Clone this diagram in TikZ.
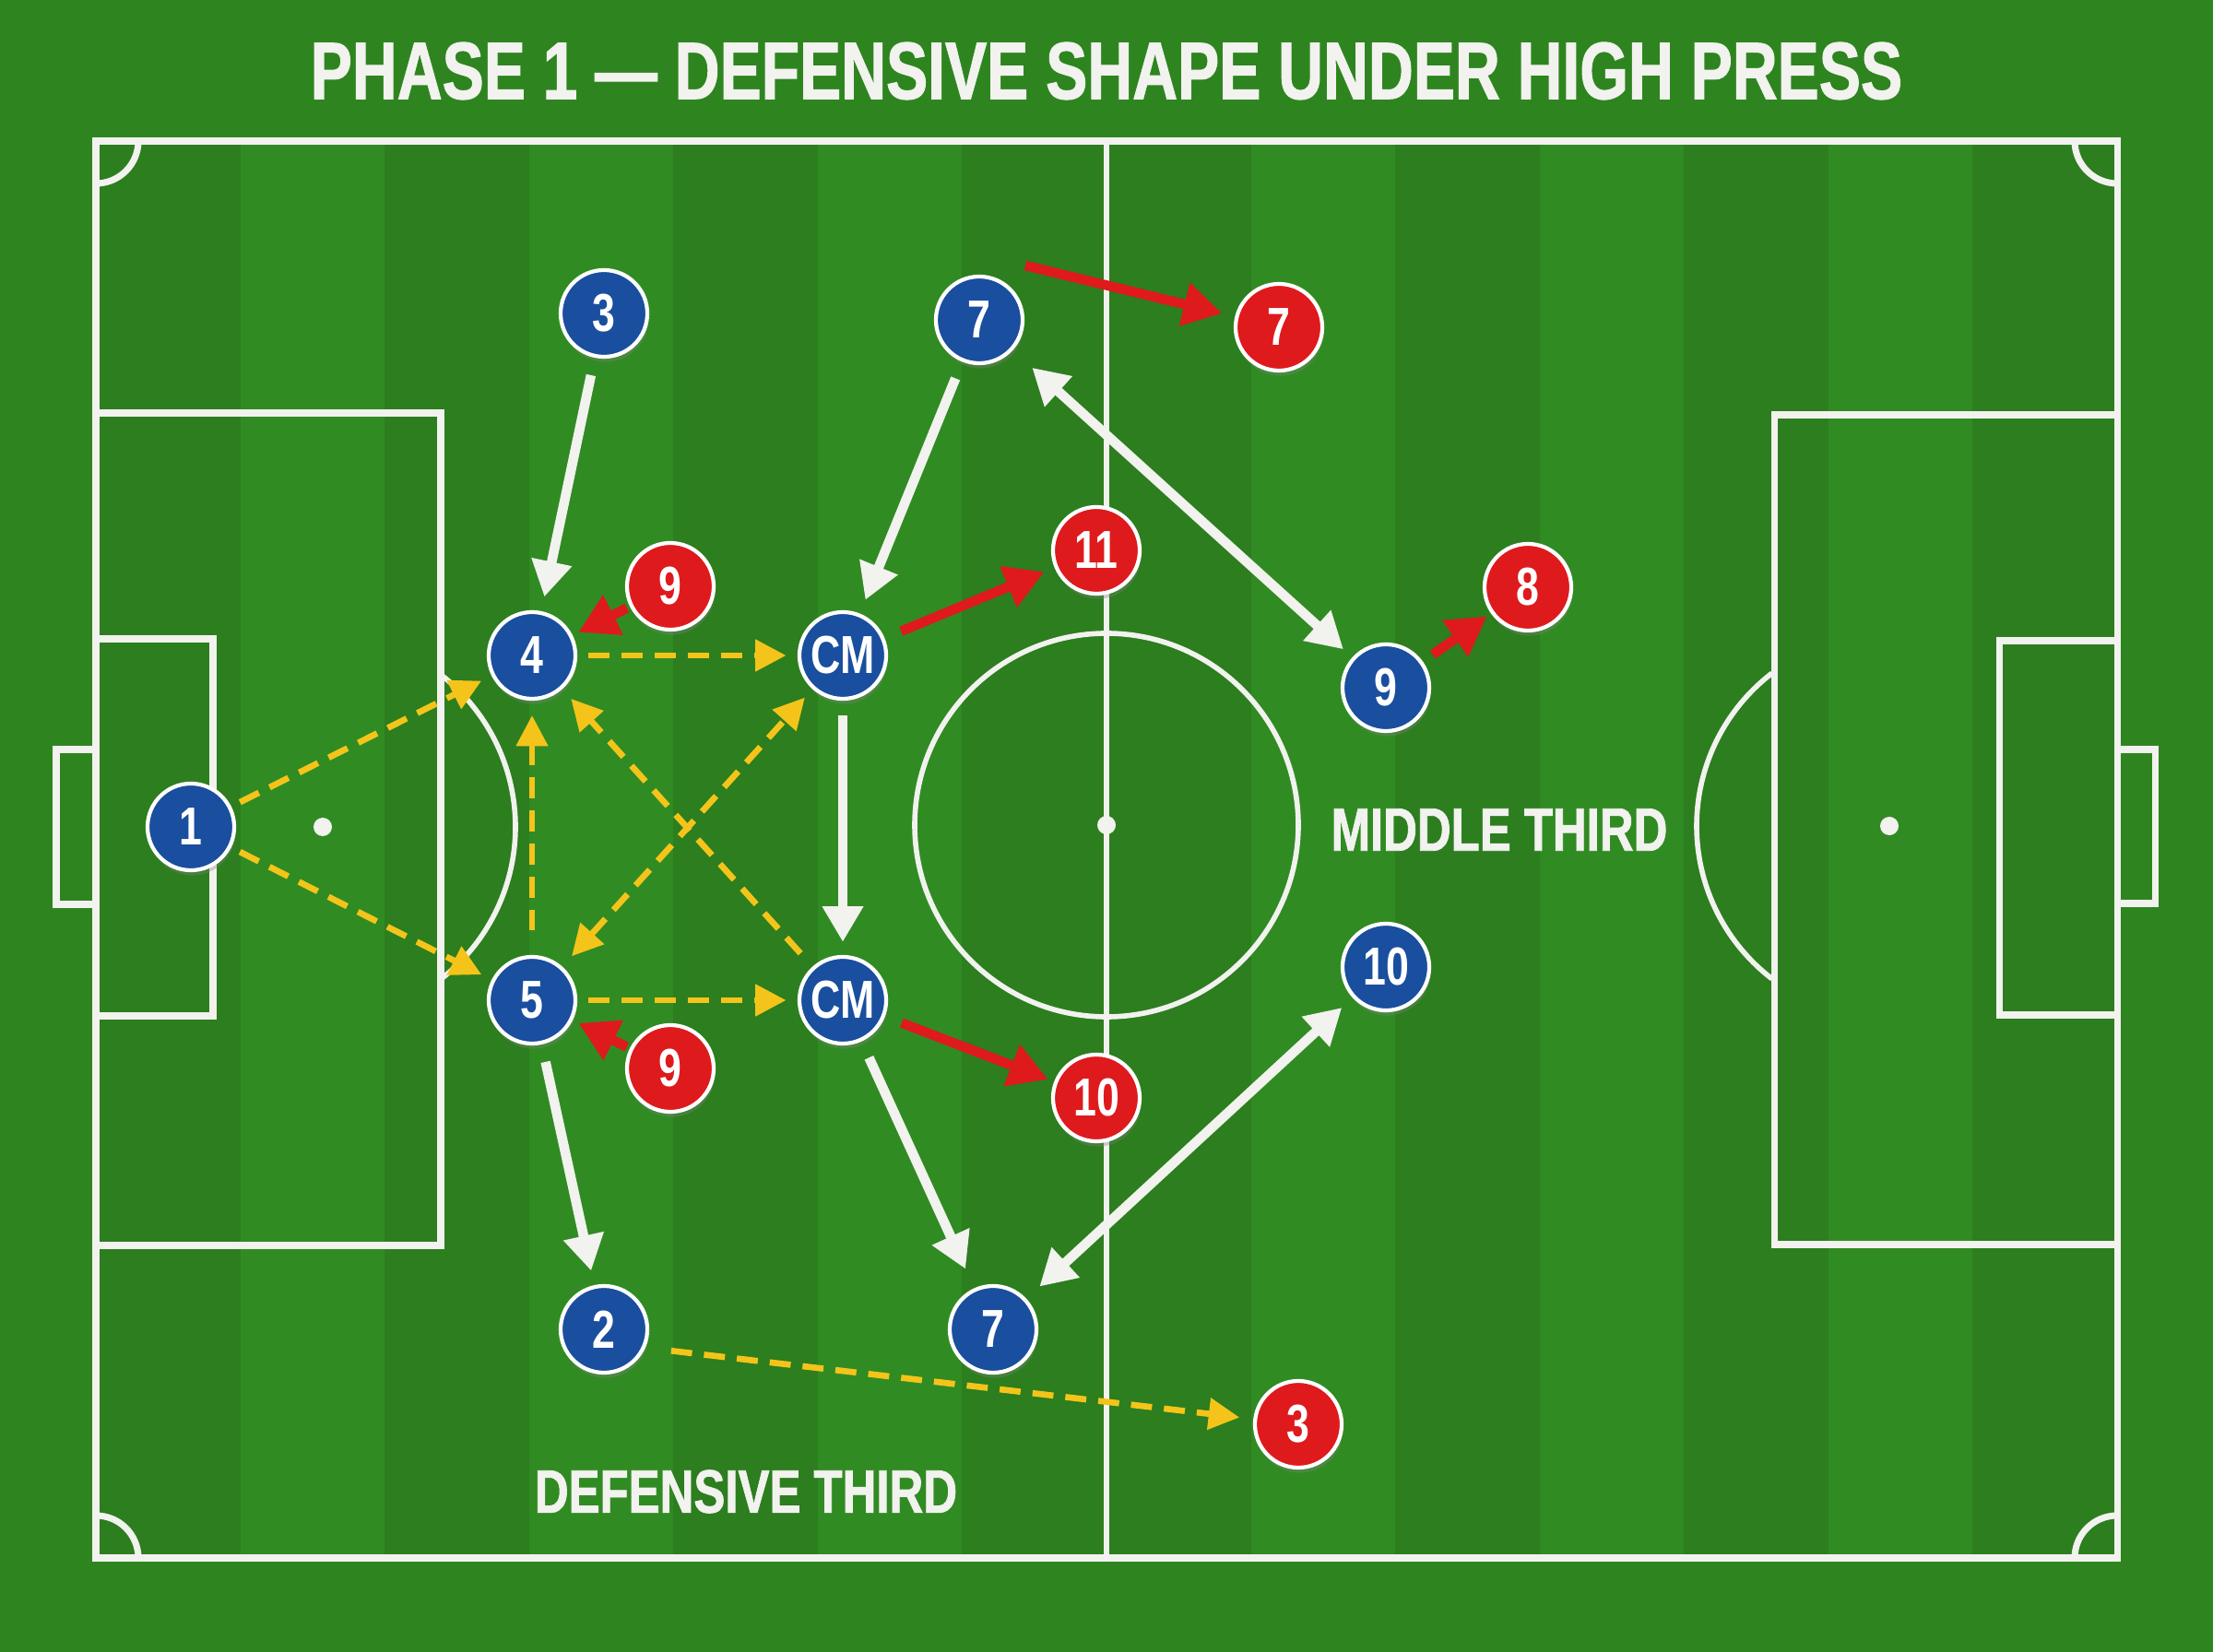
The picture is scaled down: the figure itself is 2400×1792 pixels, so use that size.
\documentclass[tikz,border=0pt]{standalone}
\usepackage{fontspec}
\setmainfont{Liberation Sans}
\newfontfamily\condfont[FakeStretch=0.77]{Liberation Sans}
\newfontfamily\heavyfont[FakeStretch=0.77, FakeBold=1.2]{Liberation Sans}
\usetikzlibrary{arrows.meta,shadows}

\definecolor{grass}{HTML}{2E851F}
\definecolor{grassdark}{HTML}{2C7E1E}
\definecolor{grasslight}{HTML}{318B23}
\definecolor{chalk}{HTML}{F2F2EF}
\definecolor{homeblue}{HTML}{1A4E9E}
\definecolor{awayred}{HTML}{DE1A1D}
\definecolor{passyellow}{HTML}{F4C41A}

\tikzset{
	pitchline/.style={draw=chalk, line width=2pt},
	player/.style={circle, draw=white, line width=1.2pt, minimum size=0.94cm, inner sep=0pt, text=white,
		font=\condfont\bfseries\fontsize{16.5}{18}\selectfont,
		drop shadow={opacity=0.35, shadow xshift=0.4pt, shadow yshift=-1.6pt}},
	home/.style={player, fill=homeblue},
	away/.style={player, fill=awayred},
	zonelabel/.style={text=chalk, inner sep=0pt, font=\heavyfont\bfseries\fontsize{18.8}{20}\selectfont},
	run/.style={draw=chalk, line width=3pt, -{Triangle[length=11pt,width=12pt]}, shorten >=4.5pt, shorten <=5.5pt},
	runboth/.style={run, {Triangle[length=11pt,width=12pt]}-{Triangle[length=11pt,width=12pt]}},
	press/.style={draw=awayred, line width=3pt, -{Triangle[length=12pt,width=13pt]}, shorten >=2pt, shorten <=1pt},
	pass/.style={draw=passyellow, line width=1.9pt, dash pattern=on 6.5pt off 3.7pt,
		-{Triangle[length=9.5pt,width=9.5pt]}, shorten >=3.5pt, shorten <=3.5pt},
	passboth/.style={pass, {Triangle[length=9.5pt,width=9.5pt]}-{Triangle[length=9.5pt,width=9.5pt]}}
}

\begin{document}
\begin{tikzpicture}[x=0.01cm, y=-0.01cm]
	\useasboundingbox (0,0) rectangle (2400,1792);
	\fill[grass] (0,0) rectangle (2400,1792);
	\foreach \i/\shade in {0/grassdark,1/grasslight,2/grassdark,3/grasslight,4/grassdark,5/grasslight,6/grassdark,
		7/grassdark,8/grasslight,9/grassdark,10/grasslight,11/grassdark,12/grasslight,13/grassdark}
		\fill[\shade] ({104+\i*156.57},153) rectangle ({104+(\i+1)*156.57},1690);

	\draw[pitchline] (104,153) rectangle (2296,1690);
	\draw[pitchline, line width=1.6pt] (1200,153) -- (1200,1690);
	\draw[pitchline, line width=1.6pt] (1200,895) circle[radius=208];
	\fill[chalk] (1200,895) circle[radius=10];
	\draw[pitchline] (104,448) rectangle (478,1351);
	\draw[pitchline] (104,693) rectangle (231,1102);
	\draw[pitchline] (104,813) rectangle (61,981);
	\fill[chalk] (350,897) circle[radius=10];
	\draw[pitchline, line width=1.6pt] (350,897) ++(-52.5:209) arc[start angle=-52.5, end angle=52.5, radius=209];
	\draw[pitchline] (1924,450) rectangle (2296,1350);
	\draw[pitchline] (2168,695) rectangle (2296,1101);
	\draw[pitchline] (2296,813) rectangle (2337,980);
	\fill[chalk] (2049,896) circle[radius=10];
	\draw[pitchline, line width=1.6pt] (2049,896) ++(127.5:209) arc[start angle=127.5, end angle=232.5, radius=209];
	\draw[pitchline] (150,153) arc[start angle=0, end angle=90, radius=46];
	\draw[pitchline] (2250,153) arc[start angle=180, end angle=90, radius=46];
	\draw[pitchline] (150,1690) arc[start angle=0, end angle=-90, radius=46];
	\draw[pitchline] (2250,1690) arc[start angle=180, end angle=270, radius=46];

	\node[text=chalk, font=\heavyfont\bfseries\fontsize{25}{28}\selectfont] (title) at (1200,77) {PHASE 1 — DEFENSIVE SHAPE UNDER HIGH PRESS};
	\node[zonelabel] (defthird) at (809,1618) {DEFENSIVE THIRD};
	\node[zonelabel] (midthird) at (1626,900) {MIDDLE THIRD};

	\node[home] (b1) at (207,897) {1};
	\node[home] (b3) at (655,340) {3};
	\node[home] (b4) at (577,711) {4};
	\node[home] (b5) at (577,1085) {5};
	\node[home] (cm1) at (914,711) {CM};
	\node[home] (cm2) at (914,1085) {CM};
	\node[home] (b7a) at (1062,347) {7};
	\node[home] (b2) at (655,1442) {2};
	\node[home] (b7b) at (1077,1442) {7};
	\node[home] (b9) at (1503,746) {9};
	\node[home] (b10) at (1503,1049) {10};

	\node[away] (r9a) at (727,636) {9};
	\node[away] (r9b) at (727,1159) {9};
	\node[away] (r11) at (1189,597) {11};
	\node[away] (r10) at (1189,1191) {10};
	\node[away] (r7) at (1387,355) {7};
	\node[away] (r8) at (1657,637) {8};
	\node[away] (r3) at (1408,1545) {3};
	\coordinate (r7start) at (1112,288);

	\draw[pass, shorten <=3pt] (b1) -- (b4);
	\draw[pass, shorten <=3pt] (b1) -- (b5);
	\draw[pass] (b4) -- (cm1);
	\draw[pass] (b5) -- (cm2);
	\draw[pass, shorten <=7.5pt, shorten >=4.5pt] (b5) -- (b4);
	\draw[pass, shorten <=5.5pt, shorten >=4pt] (cm2) -- (b4);
	\draw[passboth, shorten <=4.3pt] (b5) -- (cm1);
	\draw[pass, shorten <=8pt, shorten >=4.3pt] (b2.-24) -- (r3);

	\draw[run] (b3) -- (b4);
	\draw[run] (b7a) -- (cm1);
	\draw[run, shorten <=4.5pt, shorten >=4pt] (cm1) -- (cm2);
	\draw[run] (b5) -- (b2);
	\draw[run, shorten >=6.5pt] (cm2) -- (b7b);
	\draw[runboth, shorten <=8pt, shorten >=3.7pt] (b7a) -- (b9);
	\draw[runboth, shorten <=4.5pt, shorten >=5.5pt] (b10) -- (b7b);

	\draw[press] (r9a) -- (b4);
	\draw[press] (r9b) -- (b5);
	\draw[press, shorten <=5.5pt, shorten >=3.4pt] (cm1) -- (r11);
	\draw[press, shorten <=5.5pt] (cm2) -- (r10);
	\draw[press, shorten <=0pt, shorten >=4pt] (r7start) -- (r7);
	\draw[press, shorten <=3.7pt, shorten >=1.5pt] (b9) -- (r8);
\end{tikzpicture}
\end{document}
